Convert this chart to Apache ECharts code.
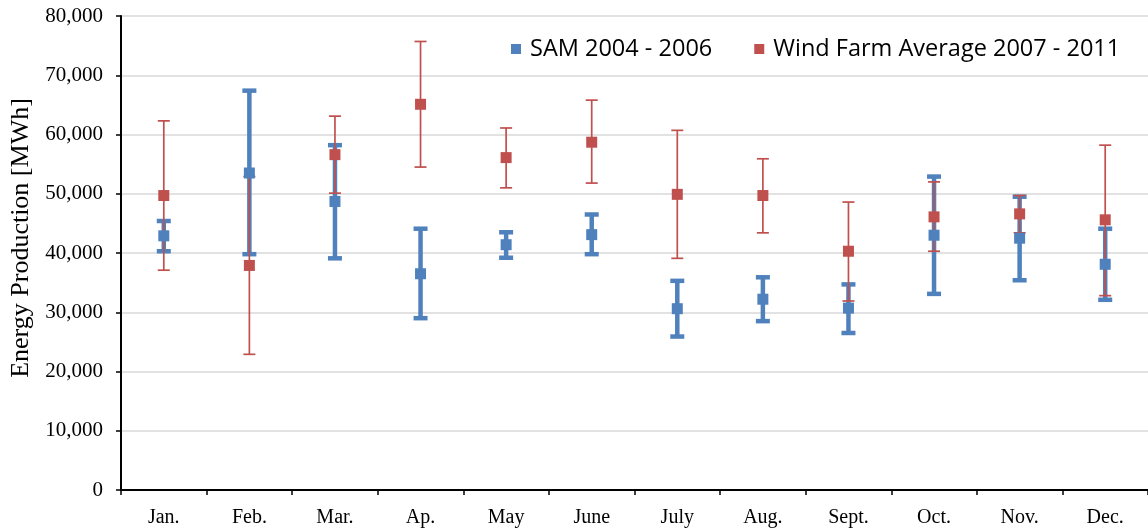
<!DOCTYPE html>
<html>
<head>
<meta charset="utf-8">
<script src="https://cdn.jsdelivr.net/npm/echarts@6/dist/echarts.min.js"></script>
<style>
  html, body { margin: 0; padding: 0; background: #ffffff; }
  #chart { width: 1148px; height: 531px; }
</style>
</head>
<body>
<div id="chart"></div>
<script>
// Monthly energy production (MWh): mean with min/max range
const months = ['Jan.', 'Feb.', 'Mar.', 'Ap.', 'May', 'June', 'July', 'Aug.', 'Sept.', 'Oct.', 'Nov.', 'Dec.'];

const samMean = [42900, 53500, 48700, 36500, 41400, 43100, 30600, 32200, 30700, 43000, 42500, 38100];
const samLow  = [40300, 39800, 39100, 29000, 39200, 39800, 25900, 28500, 26500, 33100, 35400, 32100];
const samHigh = [45400, 67400, 58200, 44100, 43500, 46500, 35300, 35900, 34700, 52900, 49500, 44100];

const windMean = [49700, 37900, 56600, 65100, 56100, 58700, 49900, 49700, 40300, 46100, 46600, 45600];
const windLow  = [37100, 22900, 50100, 54500, 51000, 51800, 39100, 43400, 31900, 40300, 43400, 32800];
const windHigh = [62300, 52900, 63100, 75700, 61100, 65800, 60700, 55900, 48600, 52000, 49700, 58200];

const yTicks = { min: 0, max: 80000, interval: 10000 };

const SAM_NAME = 'SAM 2004 - 2006';
const WIND_NAME = 'Wind Farm Average 2007 - 2011';
const BLUE = '#4F81BD';
const RED = '#C0504D';

// Vertical whisker with caps, drawn through the axis scales
function whiskers(color, lineWidth, capWidth) {
  return function (params, api) {
    const i = api.value(0);
    const lo = api.coord([i, api.value(1)]);
    const hi = api.coord([i, api.value(2)]);
    const h = capWidth / 2;
    const style = { stroke: color, lineWidth: lineWidth, fill: null };
    return {
      type: 'group',
      children: [
        { type: 'line', shape: { x1: lo[0], y1: lo[1], x2: hi[0], y2: hi[1] }, style: style },
        { type: 'line', shape: { x1: lo[0] - h, y1: lo[1], x2: lo[0] + h, y2: lo[1] }, style: style },
        { type: 'line', shape: { x1: hi[0] - h, y1: hi[1], x2: hi[0] + h, y2: hi[1] }, style: style }
      ]
    };
  };
}

const samRange = months.map((m, i) => [i, samLow[i], samHigh[i]]);
const windRange = months.map((m, i) => [i, windLow[i], windHigh[i]]);

const chart = echarts.init(document.getElementById('chart'), null, { renderer: 'canvas' });

chart.setOption({
  animation: false,
  backgroundColor: '#ffffff',
  grid: { left: 121, right: 0, top: 16, bottom: 41 },
  legend: {
    data: [SAM_NAME, WIND_NAME],
    left: 511,
    top: 37,
    padding: 0,
    icon: 'rect',
    itemWidth: 10,
    itemHeight: 10,
    itemGap: 42,
    textStyle: {
      fontFamily: '"Open Sans", sans-serif',
      fontSize: 23.5,
      color: '#000000',
      padding: [0, 0, 0, 4]
    }
  },
  xAxis: {
    type: 'category',
    data: months,
    boundaryGap: true,
    axisLine: { show: true, lineStyle: { color: '#000000', width: 2 } },
    axisTick: { show: true, length: 5, lineStyle: { color: '#000000', width: 1.5 } },
    axisLabel: {
      margin: 18,
      color: '#000000',
      fontFamily: '"Liberation Serif", "Times New Roman", serif',
      fontSize: 20
    },
    splitLine: { show: false }
  },
  yAxis: {
    type: 'value',
    min: yTicks.min,
    max: yTicks.max,
    interval: yTicks.interval,
    name: 'Energy Production [MWh]',
    nameLocation: 'middle',
    nameGap: 86,
    nameTextStyle: {
      color: '#000000',
      fontFamily: '"Liberation Serif", "Times New Roman", serif',
      fontSize: 26,
      padding: [0, 0, 0, 30]
    },
    axisLine: { show: true, lineStyle: { color: '#000000', width: 2 } },
    axisTick: { show: true, length: 5, lineStyle: { color: '#000000', width: 1.5 } },
    axisLabel: {
      margin: 18,
      color: '#000000',
      fontFamily: '"Liberation Serif", "Times New Roman", serif',
      fontSize: 21,
      formatter: v => v.toLocaleString('en-US')
    },
    splitLine: { show: true, lineStyle: { color: '#d9d9d9', width: 1.5 } }
  },
  series: [
    {
      name: 'SAM range',
      type: 'custom',
      renderItem: whiskers(BLUE, 4.5, 14),
      encode: { x: 0, y: [1, 2] },
      data: samRange,
      itemStyle: { color: BLUE },
      silent: true
    },
    {
      name: SAM_NAME,
      type: 'scatter',
      symbol: 'rect',
      symbolSize: 11,
      itemStyle: { color: BLUE, opacity: 1 },
      data: samMean
    },
    {
      name: 'Wind range',
      type: 'custom',
      renderItem: whiskers(RED, 1.7, 12),
      encode: { x: 0, y: [1, 2] },
      data: windRange,
      itemStyle: { color: RED },
      silent: true
    },
    {
      name: WIND_NAME,
      type: 'scatter',
      symbol: 'rect',
      symbolSize: 11,
      itemStyle: { color: RED, opacity: 1 },
      data: windMean
    }
  ]
});
</script>
</body>
</html>
